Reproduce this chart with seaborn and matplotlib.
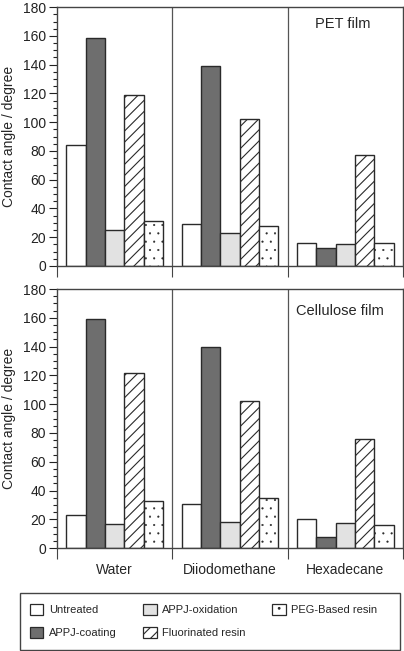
import numpy as np
import pandas as pd
import matplotlib
matplotlib.use("Agg")
import matplotlib.pyplot as plt
from matplotlib.patches import Patch, Rectangle
import seaborn as sns

sns.set_style("white")
plt.rcParams['font.family'] = ['Liberation Sans', 'DejaVu Sans']
plt.rcParams['hatch.linewidth'] = 0.8

liquids = ["Water", "Diiodomethane", "Hexadecane"]
treatments = ["Untreated", "APPJ-coating", "APPJ-oxidation", "Fluorinated resin", "PEG-Based resin"]

pet_untreated = [84, 29, 16]
pet_coating = [158.5, 139, 12.5]
pet_oxidation = [25, 23, 15.5]
pet_fluorinated = [119, 102, 77]
pet_peg = [31, 28, 16]

cel_untreated = [23, 31, 20.5]
cel_coating = [159, 140, 8]
cel_oxidation = [16.5, 18, 17.5]
cel_fluorinated = [122, 102.5, 76]
cel_peg = [32.5, 34.5, 16]

panel_titles = ["PET film", "Cellulose film"]
yticks = [0, 20, 40, 60, 80, 100, 120, 140, 160, 180]

colors = ["#ffffff", "#6e6e6e", "#e2e2e2", "#ffffff", "#ffffff"]
hatches = ["", "", "", "///", ".."]
hatch_lw = [0.8, 0.8, 0.8, 0.8, 0.3]
edge = "#2a2a2a"


def make_df(vals):
    rows = []
    for t, v in zip(treatments, vals):
        for l, y in zip(liquids, v):
            rows.append({"liquid": l, "treatment": t, "angle": y})
    return pd.DataFrame(rows)


def style_patch(p, c, h, hl):
    p.set_hatch(h)
    p.set_facecolor(c)
    p.set_edgecolor(edge)
    if hasattr(p, "set_hatch_linewidth"):
        p.set_hatch_linewidth(hl)


pet_df = make_df([pet_untreated, pet_coating, pet_oxidation, pet_fluorinated, pet_peg])
cel_df = make_df([cel_untreated, cel_coating, cel_oxidation, cel_fluorinated, cel_peg])

fig = plt.figure(figsize=(4.04, 6.51), dpi=100)
ax1 = fig.add_axes([0.141, 0.5914, 0.8565, 0.3976])
ax2 = fig.add_axes([0.141, 0.158, 0.8565, 0.398])

for ax, df, title, tx, ty in [(ax1, pet_df, panel_titles[0], 1.98, 168),
                              (ax2, cel_df, panel_titles[1], 1.95, 165)]:
    sns.barplot(data=df, x="liquid", y="angle", hue="treatment", order=liquids,
                hue_order=treatments, palette=colors, width=0.84, dodge=True,
                edgecolor=edge, linewidth=1.0, saturation=1, ax=ax, legend=False,
                errorbar=None)
    for cont, h, c, hl in zip(ax.containers, hatches, colors, hatch_lw):
        for p in cont:
            style_patch(p, c, h, hl)
    ax.set_xlim(-0.5, 2.5)
    ax.set_ylim(0, 180)
    ax.set_yticks(yticks)
    ax.set_yticks(np.arange(0, 181, 5), minor=True)
    ax.tick_params(axis='y', which='major', direction='out', length=6, width=0.8,
                   labelsize=10, pad=2, left=True, colors='#222222')
    ax.tick_params(axis='y', which='minor', direction='out', length=3, width=0.8, left=True,
                   colors='#222222')
    ax.set_xticks([-0.5, 0.5, 1.5, 2.5])
    ax.set_xticklabels([])
    ax.set_xticks([0, 1, 2], minor=True)
    ax.tick_params(axis='x', which='major', direction='out', length=8, width=0.8,
                   bottom=True, colors='#444444')
    ax.tick_params(axis='x', which='minor', length=0, labelsize=10, pad=11)
    for xv in [0.5, 1.5]:
        ax.axvline(xv, color='#555555', lw=0.9)
    for s in ax.spines.values():
        s.set_color('#444444')
        s.set_linewidth(1.0)
    ax.set_xlabel("")
    ax.set_ylabel("Contact angle / degree", fontsize=10, labelpad=5)
    ax.text(tx, ty, title, fontsize=10.5, ha='center', va='center')

ax2.set_xticklabels(liquids, minor=True)

# legend frame
W, H = 404.0, 651.0
fig.patches.append(Rectangle((20 / W, 1 - 650 / H), 380 / W, 57 / H, transform=fig.transFigure,
                             facecolor='white', edgecolor='#444444', linewidth=1.0, zorder=0))

handles = []
for c, h, hl in zip(colors, hatches, hatch_lw):
    hp = Patch(facecolor=c, edgecolor=edge, hatch=h, linewidth=0.9)
    if hasattr(hp, "set_hatch_linewidth"):
        hp.set_hatch_linewidth(hl)
    handles.append(hp)
leg = fig.legend(handles, treatments, ncol=3, loc='upper left',
                 bbox_to_anchor=(30 / W, 1 - 603.5 / H),
                 fontsize=8, frameon=False,
                 handlelength=1.2, handleheight=1.2, columnspacing=2.4,
                 labelspacing=1.04, borderpad=0, handletextpad=0.5, borderaxespad=0)

fig.savefig("out.png", dpi=100)
